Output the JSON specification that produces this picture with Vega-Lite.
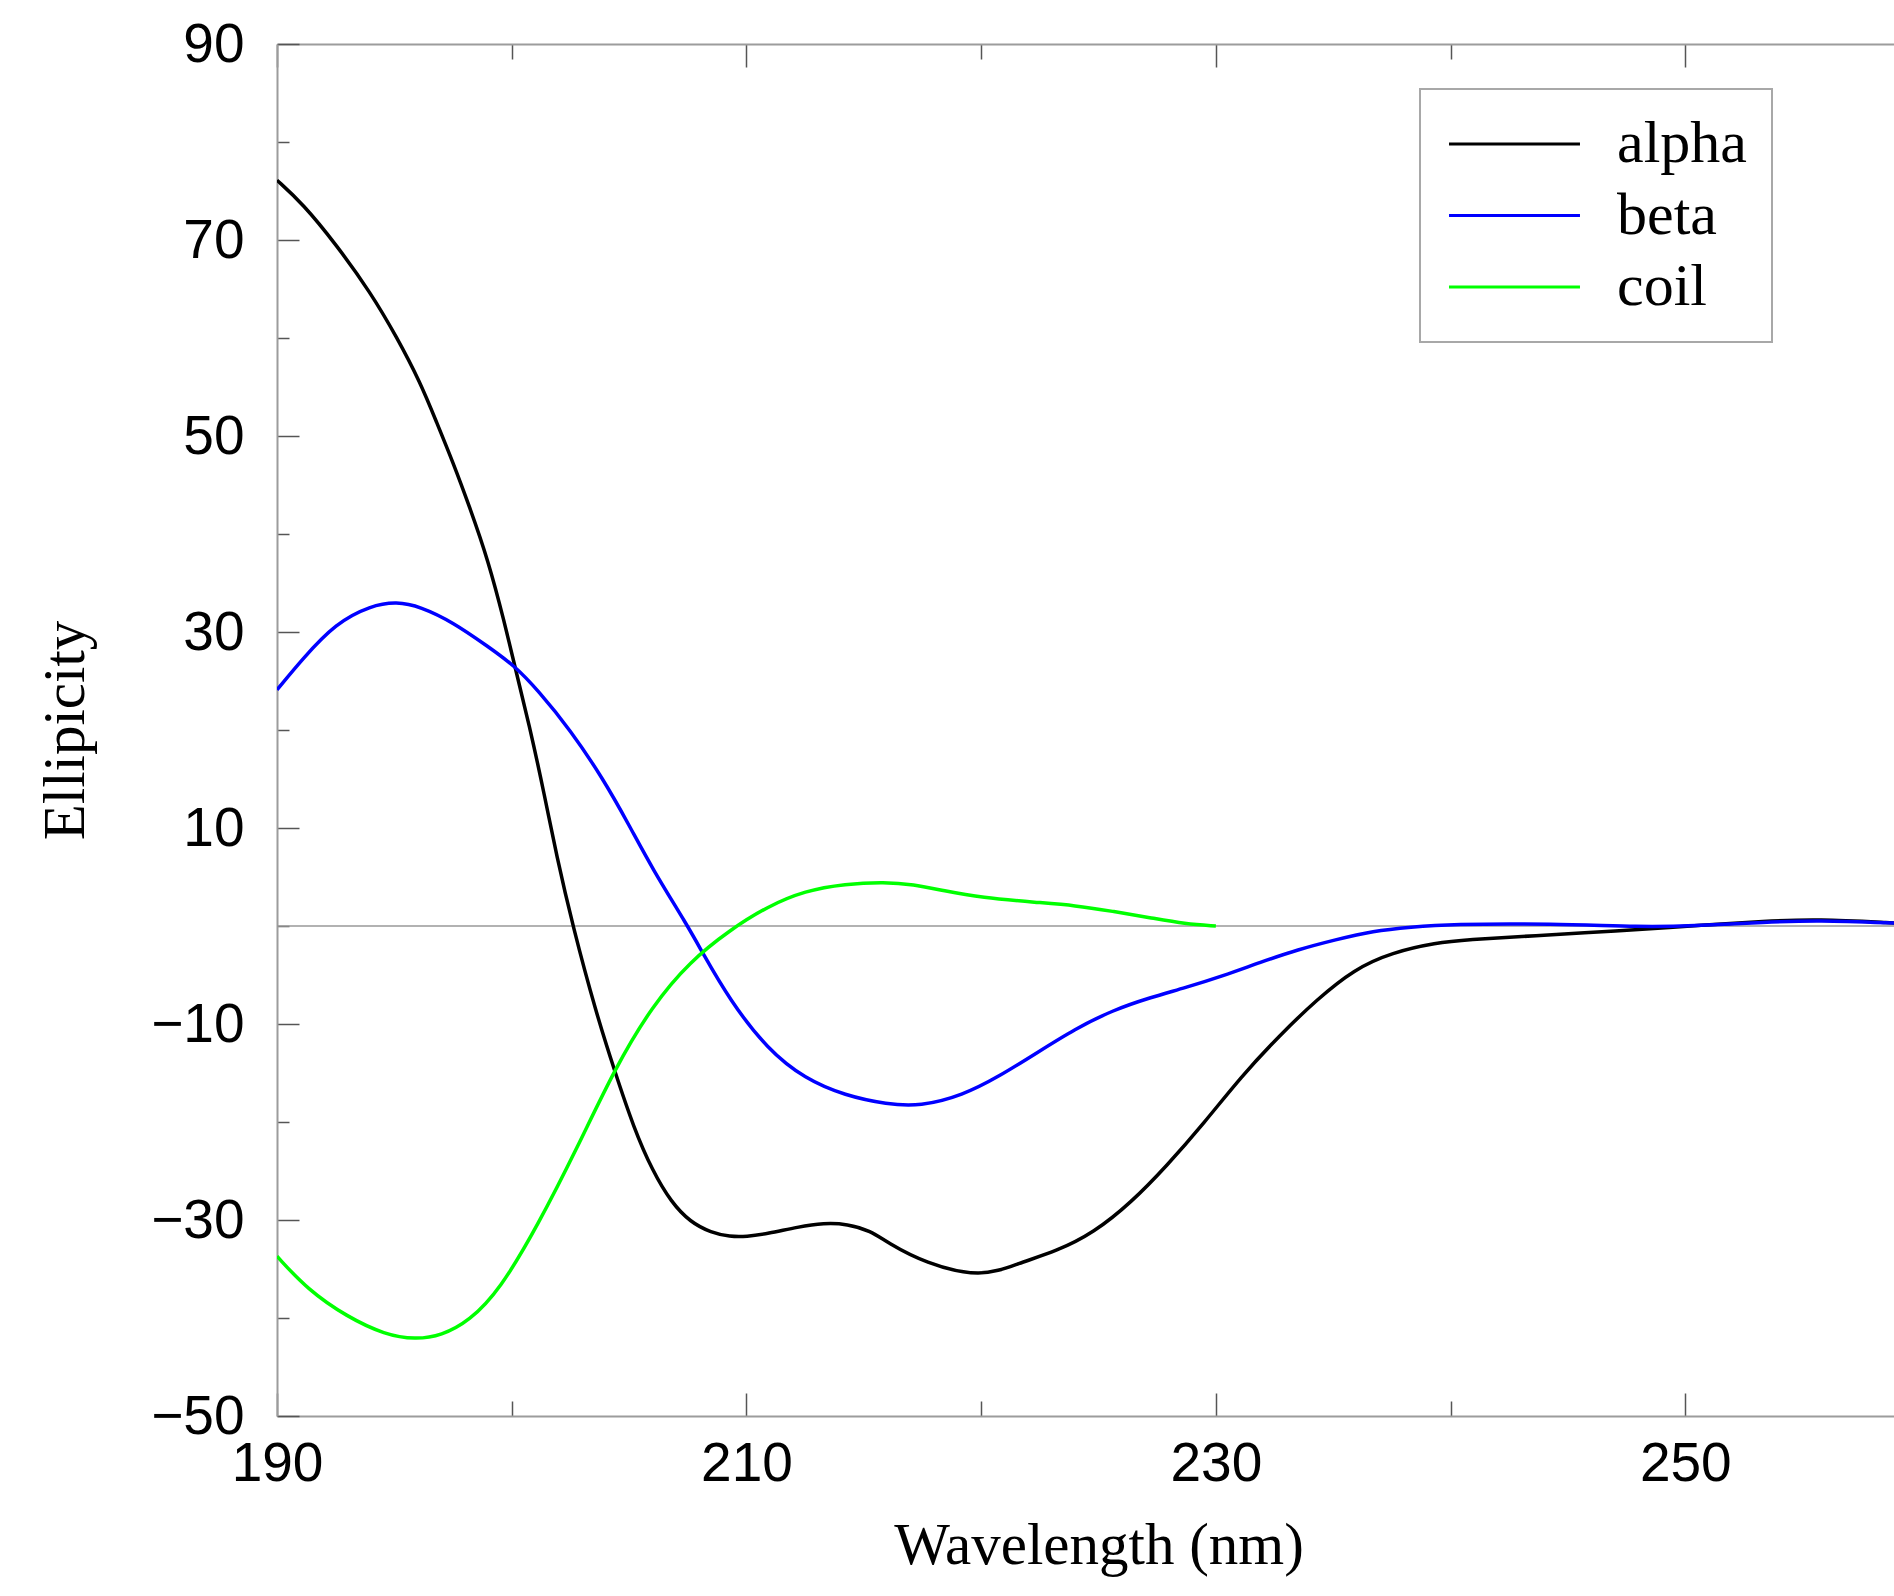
{
  "$schema": "https://vega.github.io/schema/vega-lite/v6.json",
  "width": 1643,
  "height": 1372,
  "autosize": {"type": "none"},
  "padding": {"left": 277, "top": 44, "right": 0, "bottom": 180},
  "background": "white",
  "config": {
    "view": {"stroke": null},
    "axis": {
      "domainColor": "#9c9c9c",
      "domainWidth": 2,
      "tickColor": "#555555",
      "tickWidth": 1.5,
      "grid": false,
      "labelFont": "Liberation Sans",
      "labelFontSize": 55,
      "labelColor": "#000000",
      "labelFlush": false,
      "titleFont": "Liberation Serif",
      "titleFontSize": 59,
      "titleFontWeight": "normal",
      "titleColor": "#000000"
    },
    "legend": {"strokeWidth": 2}
  },
  "datasets": {
    "curves": [
      {"structure": "alpha", "wavelength": 190.0, "ellipticity": 76.1},
      {"structure": "alpha", "wavelength": 191.1, "ellipticity": 73.7},
      {"structure": "alpha", "wavelength": 192.5, "ellipticity": 69.6},
      {"structure": "alpha", "wavelength": 194.0, "ellipticity": 64.6},
      {"structure": "alpha", "wavelength": 195.1, "ellipticity": 60.1},
      {"structure": "alpha", "wavelength": 196.1, "ellipticity": 55.5},
      {"structure": "alpha", "wavelength": 196.8, "ellipticity": 51.4},
      {"structure": "alpha", "wavelength": 197.5, "ellipticity": 47.3},
      {"structure": "alpha", "wavelength": 198.2, "ellipticity": 42.8},
      {"structure": "alpha", "wavelength": 199.0, "ellipticity": 37.3},
      {"structure": "alpha", "wavelength": 199.7, "ellipticity": 30.9},
      {"structure": "alpha", "wavelength": 200.1, "ellipticity": 26.8},
      {"structure": "alpha", "wavelength": 200.8, "ellipticity": 20.0},
      {"structure": "alpha", "wavelength": 201.4, "ellipticity": 13.3},
      {"structure": "alpha", "wavelength": 201.9, "ellipticity": 7.3},
      {"structure": "alpha", "wavelength": 202.6, "ellipticity": 0.0},
      {"structure": "alpha", "wavelength": 203.6, "ellipticity": -8.9},
      {"structure": "alpha", "wavelength": 204.4, "ellipticity": -14.9},
      {"structure": "alpha", "wavelength": 205.2, "ellipticity": -20.6},
      {"structure": "alpha", "wavelength": 206.0, "ellipticity": -25.0},
      {"structure": "alpha", "wavelength": 206.8, "ellipticity": -28.2},
      {"structure": "alpha", "wavelength": 207.6, "ellipticity": -30.2},
      {"structure": "alpha", "wavelength": 208.5, "ellipticity": -31.3},
      {"structure": "alpha", "wavelength": 209.3, "ellipticity": -31.7},
      {"structure": "alpha", "wavelength": 210.0, "ellipticity": -31.7},
      {"structure": "alpha", "wavelength": 210.9, "ellipticity": -31.4},
      {"structure": "alpha", "wavelength": 212.2, "ellipticity": -30.7},
      {"structure": "alpha", "wavelength": 213.3, "ellipticity": -30.3},
      {"structure": "alpha", "wavelength": 214.3, "ellipticity": -30.4},
      {"structure": "alpha", "wavelength": 215.3, "ellipticity": -31.1},
      {"structure": "alpha", "wavelength": 216.0, "ellipticity": -32.3},
      {"structure": "alpha", "wavelength": 217.6, "ellipticity": -34.4},
      {"structure": "alpha", "wavelength": 220.0, "ellipticity": -35.9},
      {"structure": "alpha", "wavelength": 221.6, "ellipticity": -34.4},
      {"structure": "alpha", "wavelength": 223.2, "ellipticity": -33.2},
      {"structure": "alpha", "wavelength": 224.8, "ellipticity": -31.3},
      {"structure": "alpha", "wavelength": 226.4, "ellipticity": -28.2},
      {"structure": "alpha", "wavelength": 227.9, "ellipticity": -24.5},
      {"structure": "alpha", "wavelength": 229.5, "ellipticity": -20.1},
      {"structure": "alpha", "wavelength": 231.1, "ellipticity": -15.3},
      {"structure": "alpha", "wavelength": 232.7, "ellipticity": -11.2},
      {"structure": "alpha", "wavelength": 234.3, "ellipticity": -7.5},
      {"structure": "alpha", "wavelength": 235.9, "ellipticity": -4.4},
      {"structure": "alpha", "wavelength": 237.5, "ellipticity": -2.7},
      {"structure": "alpha", "wavelength": 239.4, "ellipticity": -1.7},
      {"structure": "alpha", "wavelength": 240.7, "ellipticity": -1.4},
      {"structure": "alpha", "wavelength": 243.5, "ellipticity": -1.0},
      {"structure": "alpha", "wavelength": 247.1, "ellipticity": -0.5},
      {"structure": "alpha", "wavelength": 250.2, "ellipticity": 0.0},
      {"structure": "alpha", "wavelength": 253.5, "ellipticity": 0.5},
      {"structure": "alpha", "wavelength": 255.6, "ellipticity": 0.7},
      {"structure": "alpha", "wavelength": 258.9, "ellipticity": 0.3},
      {"structure": "alpha", "wavelength": 260.0, "ellipticity": 0.2},
      {"structure": "beta", "wavelength": 190.0, "ellipticity": 24.1},
      {"structure": "beta", "wavelength": 191.1, "ellipticity": 27.3},
      {"structure": "beta", "wavelength": 192.5, "ellipticity": 30.9},
      {"structure": "beta", "wavelength": 194.0, "ellipticity": 32.7},
      {"structure": "beta", "wavelength": 195.1, "ellipticity": 33.1},
      {"structure": "beta", "wavelength": 196.1, "ellipticity": 32.6},
      {"structure": "beta", "wavelength": 197.5, "ellipticity": 31.0},
      {"structure": "beta", "wavelength": 199.0, "ellipticity": 28.5},
      {"structure": "beta", "wavelength": 200.1, "ellipticity": 26.6},
      {"structure": "beta", "wavelength": 201.1, "ellipticity": 24.1},
      {"structure": "beta", "wavelength": 202.5, "ellipticity": 20.0},
      {"structure": "beta", "wavelength": 203.9, "ellipticity": 15.0},
      {"structure": "beta", "wavelength": 205.0, "ellipticity": 10.3},
      {"structure": "beta", "wavelength": 206.0, "ellipticity": 5.8},
      {"structure": "beta", "wavelength": 207.5, "ellipticity": 0.0},
      {"structure": "beta", "wavelength": 208.1, "ellipticity": -2.6},
      {"structure": "beta", "wavelength": 209.3, "ellipticity": -7.6},
      {"structure": "beta", "wavelength": 210.9, "ellipticity": -12.6},
      {"structure": "beta", "wavelength": 212.5, "ellipticity": -15.6},
      {"structure": "beta", "wavelength": 214.2, "ellipticity": -17.3},
      {"structure": "beta", "wavelength": 216.0, "ellipticity": -18.2},
      {"structure": "beta", "wavelength": 217.4, "ellipticity": -18.4},
      {"structure": "beta", "wavelength": 219.2, "ellipticity": -17.3},
      {"structure": "beta", "wavelength": 220.8, "ellipticity": -15.3},
      {"structure": "beta", "wavelength": 222.4, "ellipticity": -12.9},
      {"structure": "beta", "wavelength": 224.0, "ellipticity": -10.5},
      {"structure": "beta", "wavelength": 225.6, "ellipticity": -8.6},
      {"structure": "beta", "wavelength": 227.2, "ellipticity": -7.3},
      {"structure": "beta", "wavelength": 228.7, "ellipticity": -6.3},
      {"structure": "beta", "wavelength": 230.3, "ellipticity": -5.1},
      {"structure": "beta", "wavelength": 231.9, "ellipticity": -3.7},
      {"structure": "beta", "wavelength": 233.5, "ellipticity": -2.4},
      {"structure": "beta", "wavelength": 235.1, "ellipticity": -1.4},
      {"structure": "beta", "wavelength": 236.7, "ellipticity": -0.5},
      {"structure": "beta", "wavelength": 238.3, "ellipticity": -0.1},
      {"structure": "beta", "wavelength": 240.0, "ellipticity": 0.2},
      {"structure": "beta", "wavelength": 244.3, "ellipticity": 0.25},
      {"structure": "beta", "wavelength": 248.2, "ellipticity": -0.1},
      {"structure": "beta", "wavelength": 250.2, "ellipticity": 0.0},
      {"structure": "beta", "wavelength": 253.5, "ellipticity": 0.4},
      {"structure": "beta", "wavelength": 255.6, "ellipticity": 0.6},
      {"structure": "beta", "wavelength": 258.9, "ellipticity": 0.3},
      {"structure": "beta", "wavelength": 260.0, "ellipticity": 0.2},
      {"structure": "coil", "wavelength": 190.0, "ellipticity": -33.7},
      {"structure": "coil", "wavelength": 191.3, "ellipticity": -37.1},
      {"structure": "coil", "wavelength": 193.0, "ellipticity": -39.9},
      {"structure": "coil", "wavelength": 194.6, "ellipticity": -41.7},
      {"structure": "coil", "wavelength": 195.9, "ellipticity": -42.2},
      {"structure": "coil", "wavelength": 197.0, "ellipticity": -41.8},
      {"structure": "coil", "wavelength": 198.2, "ellipticity": -40.3},
      {"structure": "coil", "wavelength": 199.5, "ellipticity": -37.1},
      {"structure": "coil", "wavelength": 201.1, "ellipticity": -30.6},
      {"structure": "coil", "wavelength": 202.8, "ellipticity": -22.6},
      {"structure": "coil", "wavelength": 204.4, "ellipticity": -14.5},
      {"structure": "coil", "wavelength": 206.0, "ellipticity": -8.1},
      {"structure": "coil", "wavelength": 207.6, "ellipticity": -3.6},
      {"structure": "coil", "wavelength": 209.3, "ellipticity": -0.4},
      {"structure": "coil", "wavelength": 210.9, "ellipticity": 2.0},
      {"structure": "coil", "wavelength": 212.5, "ellipticity": 3.6},
      {"structure": "coil", "wavelength": 214.2, "ellipticity": 4.3},
      {"structure": "coil", "wavelength": 215.9, "ellipticity": 4.5},
      {"structure": "coil", "wavelength": 217.1, "ellipticity": 4.25},
      {"structure": "coil", "wavelength": 218.4, "ellipticity": 3.6},
      {"structure": "coil", "wavelength": 220.0, "ellipticity": 2.9},
      {"structure": "coil", "wavelength": 222.4, "ellipticity": 2.4},
      {"structure": "coil", "wavelength": 224.0, "ellipticity": 2.1},
      {"structure": "coil", "wavelength": 225.6, "ellipticity": 1.5},
      {"structure": "coil", "wavelength": 227.2, "ellipticity": 0.85},
      {"structure": "coil", "wavelength": 228.7, "ellipticity": 0.2},
      {"structure": "coil", "wavelength": 230.0, "ellipticity": 0.0}
    ]
  },
  "resolve": {"axis": {"x": "independent"}},
  "layer": [
    {
      "data": {"values": [{}]},
      "mark": {"type": "rule", "color": "#999999", "strokeWidth": 1.5},
      "encoding": {
        "x": {
          "datum": 190,
          "type": "quantitative",
          "scale": {"domain": [190, 260], "nice": false, "zero": false},
          "axis": {
            "orient": "top",
            "values": [190, 200, 210, 220, 230, 240, 250, 260],
            "labels": false,
            "title": null,
            "tickSize": {"condition": {"test": "(datum.value - 190) % 20 == 0", "value": -23}, "value": -15}
          }
        },
        "x2": {"datum": 260},
        "y": {"datum": 0, "type": "quantitative"}
      }
    },
    {
      "data": {"name": "curves"},
      "mark": {"type": "line", "strokeWidth": 3.5, "interpolate": "basis", "clip": true},
      "encoding": {
        "x": {
          "field": "wavelength",
          "type": "quantitative",
          "scale": {"domain": [190, 260], "nice": false, "zero": false},
          "axis": {
            "orient": "bottom",
            "values": [190, 200, 210, 220, 230, 240, 250, 260],
            "labelExpr": "(datum.value - 190) % 20 == 0 ? datum.label : ''",
            "title": "Wavelength (nm)",
            "titleBaseline": "alphabetic",
            "titleY": 147,
            "labelPadding": 44,
            "tickSize": {"condition": {"test": "(datum.value - 190) % 20 == 0", "value": -23}, "value": -15}
          }
        },
        "y": {
          "field": "ellipticity",
          "type": "quantitative",
          "scale": {"domain": [-50, 90], "nice": false, "zero": false},
          "axis": {
            "values": [-50, -40, -30, -20, -10, 0, 10, 20, 30, 40, 50, 60, 70, 80, 90],
            "labelExpr": "abs(datum.value) % 20 == 10 ? datum.label : ''",
            "title": "Ellipicity",
            "titleAngle": 270,
            "titleBaseline": "alphabetic",
            "titleX": -194,
            "titleY": 686,
            "labelPadding": 55,
            "tickSize": {"condition": {"test": "abs(datum.value) % 20 == 10", "value": -22}, "value": -12}
          }
        },
        "color": {
          "field": "structure",
          "type": "nominal",
          "scale": {"domain": ["alpha", "beta", "coil"], "range": ["#000000", "#0000ff", "#00ff00"]},
          "legend": {
            "orient": "none",
            "legendX": 1143,
            "legendY": 45,
            "title": null,
            "padding": 25,
            "strokeColor": "#a8a8a8",
            "symbolType": "M-5,0H5",
            "symbolSize": 686,
            "symbolStrokeWidth": 3,
            "symbolOffset": 39.5,
            "labelOffset": 72.5,
            "labelFont": "Liberation Serif",
            "labelFontSize": 60,
            "labelColor": "#000000",
            "labelLimit": 400,
            "rowPadding": 11.5
          }
        }
      }
    }
  ]
}
